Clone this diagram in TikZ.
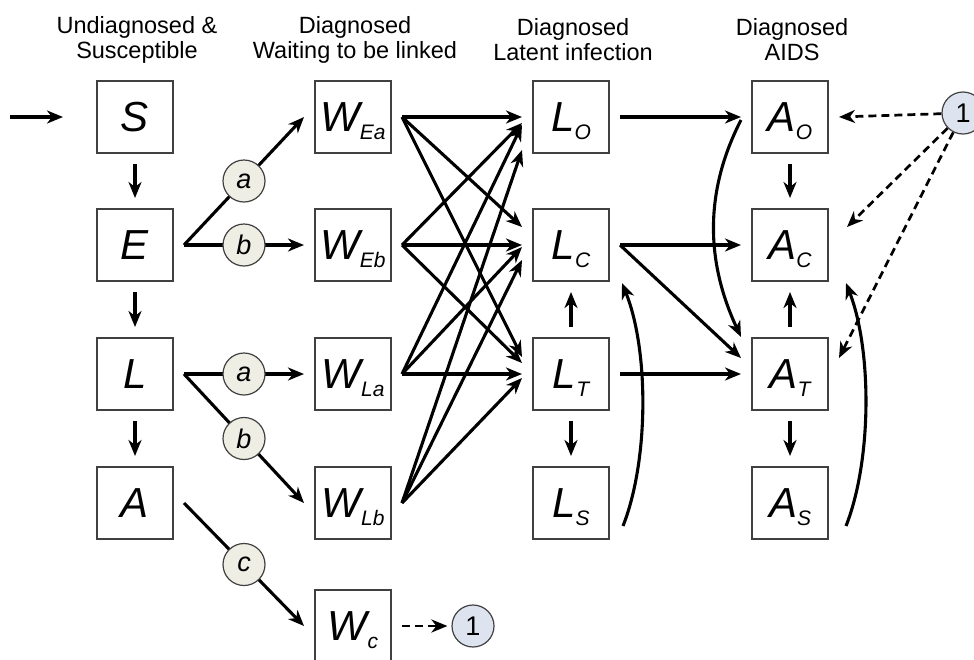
\documentclass[tikz,border=0pt]{standalone}
\usepackage{fontspec}
\setmainfont{Liberation Sans}
\usetikzlibrary{arrows.meta,calc}
\definecolor{beige}{HTML}{EEEEE4}
\definecolor{paleblue}{HTML}{DEE4EF}
\newcommand{\sbx}[2]{#1\raisebox{-8pt}[0pt][0pt]{\fontsize{21}{21}\selectfont #2}}
\begin{document}
\begin{tikzpicture}[x=1pt,y=-1pt,
  box/.style={draw=black!75,line width=1.1pt,minimum width=76pt,minimum height=72pt,inner sep=0pt,outer sep=11pt,font=\fontsize{42}{42}\selectfont\itshape},
  lab/.style={circle,draw=black!75,line width=1.2pt,fill=beige,minimum size=42pt,inner sep=0pt,font=\fontsize{27}{27}\selectfont\itshape},
  one/.style={lab,fill=paleblue,font=\fontsize{27}{27}\selectfont},
  arr/.style={line width=3.1pt,-{Stealth[length=16pt,width=13pt,inset=5pt]}},
  dsh/.style={arr,line width=2.7pt,dash pattern=on 8pt off 5pt},
  head/.style={align=center,inner sep=0pt,font=\fontsize{23.5}{25}\selectfont}]
\useasboundingbox (0,0) rectangle (974,659);
\node[head] (h1) at (137,40) {Undiagnosed \&\\Susceptible};
\node[head] (h2) at (355,40) {Diagnosed\\Waiting to be linked};
\node[head] (h3) at (573,40) {Diagnosed\\Latent infection};
\node[head] (h4) at (792,40) {Diagnosed\\AIDS};
\node[box] (S) at (135,117) {S};
\node[box] (E) at (135,245) {E};
\node[box] (L) at (135,374) {L};
\node[box] (A) at (135,503) {A};
\node[box] (WEa) at (353,117) {\sbx{W}{Ea}};
\node[box] (WEb) at (353,245) {\sbx{W}{Eb}};
\node[box] (WLa) at (353,374) {\sbx{W}{La}};
\node[box] (WLb) at (353,503) {\sbx{W}{Lb}};
\node[box] (Wc) at (353,626) {\sbx{W}{c}};
\node[box] (LO) at (571,117) {\sbx{L}{O}};
\node[box] (LC) at (571,245) {\sbx{L}{C}};
\node[box] (LT) at (571,374) {\sbx{L}{T}};
\node[box] (LS) at (571,503) {\sbx{L}{S}};
\node[box] (AO) at (790,117) {\sbx{A}{O}};
\node[box] (AC) at (790,245) {\sbx{A}{C}};
\node[box] (AT) at (790,374) {\sbx{A}{T}};
\node[box] (AS) at (790,503) {\sbx{A}{S}};
\node[one] (o1) at (473,626) {1};
\node[one] (o2) at (963,113) {1};
\coordinate (src) at (10,117);
\draw[arr] (src) -- ([xshift=-23pt]S.west);
\draw[arr] (S) -- (E);
\draw[arr] (E) -- (L);
\draw[arr] (L) -- (A);
\draw[arr] (E.east) -- node[lab] (a1) {a} (WEa.west);
\draw[arr] (E.east) -- node[lab] (b1) {b} (WEb.west);
\draw[arr] (L.east) -- node[lab] (a2) {a} (WLa.west);
\draw[arr] (L.east) -- node[lab] (b2) {b} (WLb.west);
\draw[arr] (A.east) -- node[lab] (c1) {c} (Wc.west);
\draw[dsh,shorten >=4pt] (Wc) -- (o1);
\draw[arr] (WEa.east) -- (LO.west);
\draw[arr] (WEa.east) -- ($(LC.west)+(0,-18)$);
\draw[arr] (WEa.east) -- ($(LT.west)+(0,-17)$);
\draw[arr] (WEb.east) -- ($(LO.west)+(0,6)$);
\draw[arr] (WEb.east) -- (LC.west);
\draw[arr] (WEb.east) -- ($(LT.west)+(0,-11)$);
\draw[arr] (WLa.east) -- ($(LO.west)+(0,8)$);
\draw[arr] (WLa.east) -- ($(LC.west)+(0,2)$);
\draw[arr] (WLa.east) -- (LT.west);
\draw[arr] (WLb.east) -- ($(LO.west)+(0,33)$);
\draw[arr] (WLb.east) -- ($(LC.west)+(0,15)$);
\draw[arr] (WLb.east) -- ($(LT.west)+(0,4)$);
\draw[arr] (LT) -- (LC);
\draw[arr] (LT) -- (LS);
\draw[arr] (LO.east) -- (AO.west);
\draw[arr] (LC.east) -- (AC.west);
\draw[arr] (LT.east) -- (AT.west);
\draw[arr] (LC.east) -- ($(AT.west)+(0,-16)$);
\draw[arr] ($(AO.west)+(0,3)$) .. controls (705,190) and (705,260) .. ($(AT.west)+(0,-37)$);
\draw[arr] ($(LS.east)+(3,23)$) .. controls (649,460) and (649,350) .. ($(LC.east)+(2,38)$);
\draw[arr] (AO) -- (AC);
\draw[arr] (AT) -- (AC);
\draw[arr] (AT) -- (AS);
\draw[arr] ($(AS.east)+(7,23)$) .. controls (872,460) and (872,350) .. ($(AC.east)+(7,38)$);
\draw[dsh] (o2) -- (AO.east);
\draw[dsh] (o2) -- ($(AC.east)+(8,-18)$);
\draw[dsh] (o2) -- ($(AT.east)+(0,-16)$);
\end{tikzpicture}
\end{document}
